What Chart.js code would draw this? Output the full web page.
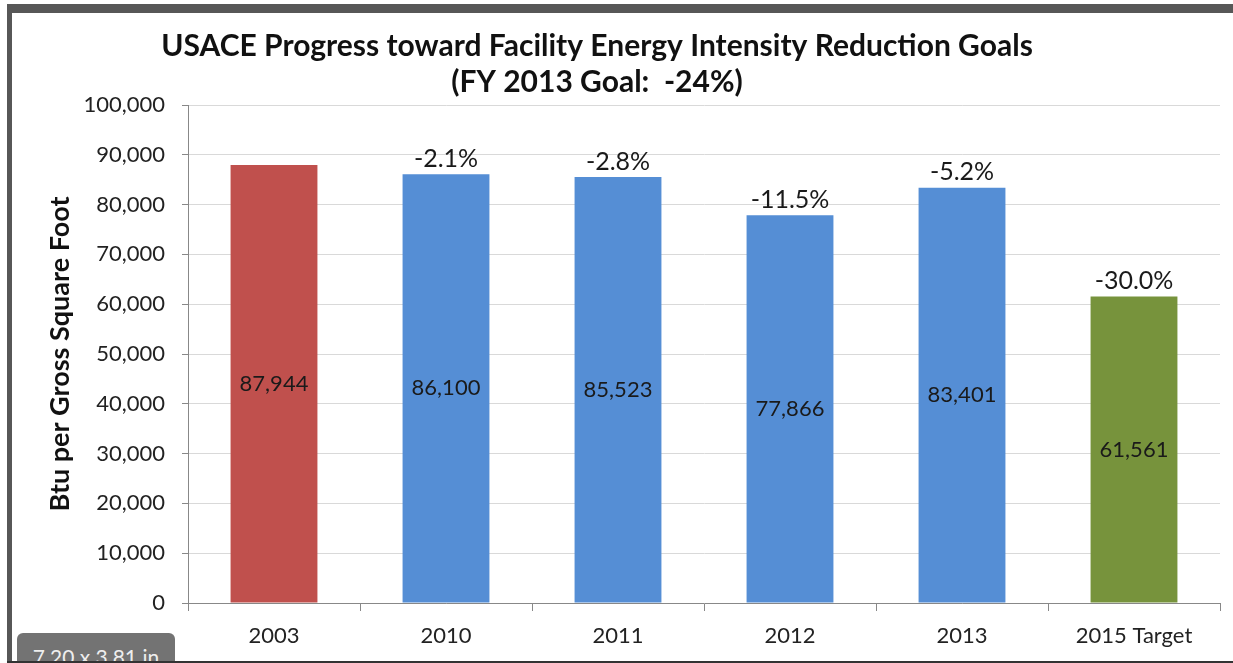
<!DOCTYPE html>
<html>
<head>
<meta charset="utf-8">
<script src="https://cdn.jsdelivr.net/npm/chart.js@4"></script>
<style>
  html, body { margin: 0; padding: 0; background: #fff; }
  #page { position: relative; width: 1233px; height: 663px; overflow: hidden; background: #fff; }
  .frame { position: absolute; background: #575757; }
  #wrap { position: absolute; left: 13px; top: 13px; width: 1215px; height: 648px; }
  #sizeTag {
    position: absolute; left: 17px; top: 633px; width: 158px; height: 40px;
    background: #737373; border-radius: 6px 6px 0 0;
    color: #eeeeee; font: 21px Lato, sans-serif; text-align: center; line-height: 34px;
    padding-top: 7px; box-sizing: border-box;
  }
</style>
</head>
<body>
<div id="page">
  <div id="wrap"><canvas id="energyChart" width="1215" height="648"></canvas></div>
  <div class="frame" style="left:7px; top:4px; width:1226px; height:9px;"></div>
  <div class="frame" style="left:7px; top:4px; width:5px; height:659px;"></div>
  <div id="sizeTag">7.20 x 3.81 in</div>
  <div class="frame" style="left:7px; top:661px; width:1226px; height:2px; background:#333;"></div>
</div>
<script>
// values
const categories = ["2003", "2010", "2011", "2012", "2013", "2015 Target"];
const btuValues = [87944, 86100, 85523, 77866, 83401, 61561];
const changeLabels = ["", "-2.1%", "-2.8%", "-11.5%", "-5.2%", "-30.0%"];
const barColors = ["#C0504D", "#558ED5", "#558ED5", "#558ED5", "#558ED5", "#77933C"];
const titleLines = ["USACE Progress toward Facility Energy Intensity Reduction Goals", "(FY 2013 Goal:  -24%)"];
const yAxisTitle = "Btu per Gross Square Foot";

const fmt = (v) => v.toLocaleString("en-US");

// title + bar labels drawn on the canvas
const labelPlugin = {
  id: "barLabels",
  afterDatasetsDraw(chart) {
    const ctx = chart.ctx;
    const meta = chart.getDatasetMeta(0);
    ctx.save();
    ctx.textAlign = "center";
    meta.data.forEach((bar, i) => {
      ctx.fillStyle = "#1a1a1a";
      ctx.font = "22px Lato, sans-serif";
      ctx.textBaseline = "middle";
      ctx.fillText(fmt(btuValues[i]), bar.x, (bar.y + bar.base) / 2);
      if (changeLabels[i]) {
        ctx.font = "25px Lato, sans-serif";
        ctx.textBaseline = "bottom";
        ctx.fillText(changeLabels[i], bar.x, bar.y - 3);
      }
    });
    ctx.restore();
  },
  afterDraw(chart) {
    const ctx = chart.ctx;
    ctx.save();
    ctx.fillStyle = "#111";
    ctx.font = "bold 30px Lato, sans-serif";
    ctx.textAlign = "center";
    ctx.textBaseline = "middle";
    ctx.fillText(titleLines[0], 584, 33);
    ctx.fillText(titleLines[1], 584, 69);
    ctx.restore();
  }
};

const ctx = document.getElementById("energyChart").getContext("2d");
const energyChart = new Chart(ctx, {
  type: "bar",
  data: {
    labels: categories,
    datasets: [{
      data: btuValues,
      backgroundColor: barColors,
      borderWidth: 0,
      categoryPercentage: 1.0,
      barPercentage: 0.505,
    }],
  },
  options: {
    responsive: false,
    animation: false,
    layout: { padding: { top: 92, right: 8, left: 0, bottom: 0 } },
    plugins: {
      legend: { display: false },
      tooltip: { enabled: false },
    },
    scales: {
      x: {
        grid: {
          drawOnChartArea: false,
          drawTicks: true,
          tickLength: 8,
          color: "#888",
        },
        border: { color: "#888", width: 1 },
        ticks: {
          color: "#222",
          font: { family: "Lato", size: 22 },
          padding: 12,
        },
        afterFit(scale) {
          scale.height = 58;
          scale.paddingLeft = 0;
          scale.paddingRight = 0;
        },
      },
      y: {
        min: 0,
        max: 100000,
        ticks: {
          stepSize: 10000,
          color: "#222",
          font: { family: "Lato", size: 22 },
          padding: 17,
          callback: (v) => fmt(v),
        },
        grid: {
          color: "#d9d9d9",
          tickColor: "#888",
          tickLength: 6,
        },
        border: { color: "#888", width: 1 },
        title: {
          display: true,
          text: yAxisTitle,
          color: "#111",
          font: { family: "Lato", size: 27, weight: "bold" },
          padding: { top: 31, bottom: 0 },
        },
        afterFit(scale) {
          scale.width = 175;
          scale.paddingTop = 0;
          scale.paddingBottom = 0;
        },
      },
    },
  },
  plugins: [labelPlugin],
});
</script>
</body>
</html>
